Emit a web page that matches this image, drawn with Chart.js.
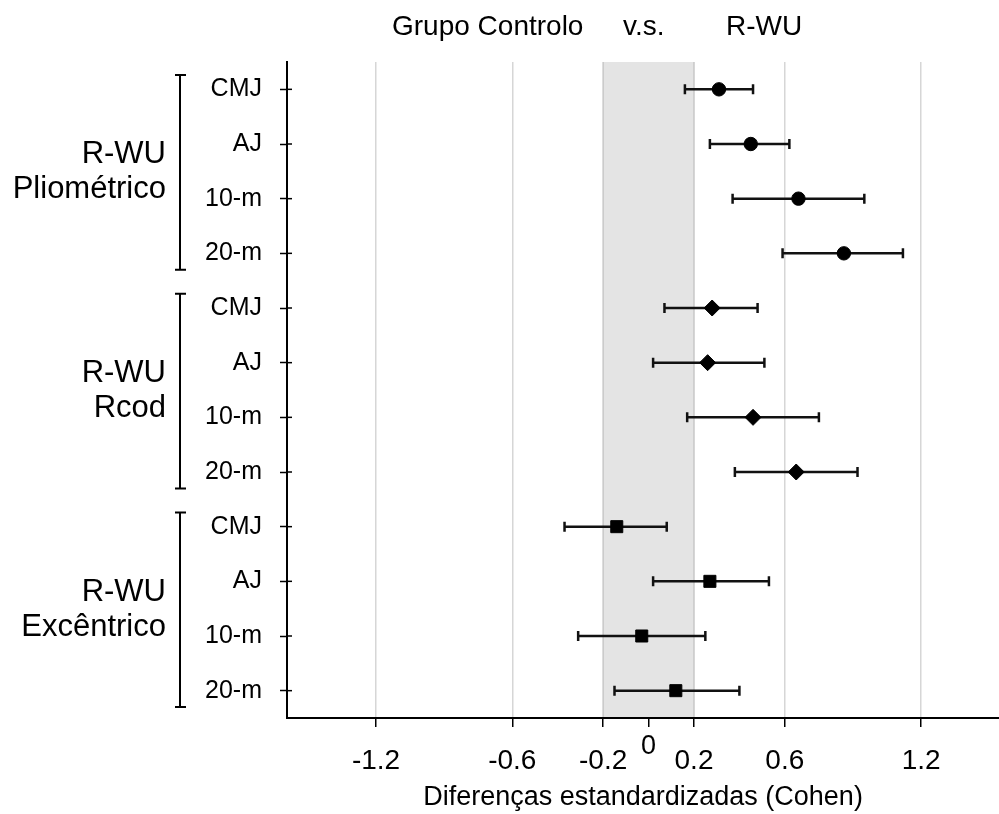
<!DOCTYPE html>
<html><head><meta charset="utf-8">
<script src="https://cdn.jsdelivr.net/npm/chart.js@4"></script>
<style>html,body{margin:0;padding:0;background:#fff;overflow:hidden}</style>
</head><body>
<canvas id="c" width="999" height="814" style="width:999px;height:814px"></canvas>
<script>
// ---- data ----
const categories = ['CMJ','AJ','10-m','20-m','CMJ','AJ','10-m','20-m','CMJ','AJ','10-m','20-m'];
const groupLabels = [['R-WU','Pliométrico'],['R-WU','Rcod'],['R-WU','Excêntrico']];
const titleParts = ['Grupo Controlo','v.s.','R-WU'];
const xTitle = 'Diferenças estandardizadas (Cohen)';
const xTickValues = [-1.2,-0.6,-0.2,0,0.2,0.6,1.2];
const bandRange = [-0.2,0.2];

const pliomRows = [0,1,2,3];
const pliomMean = [0.31,0.45,0.66,0.86];
const pliomLow  = [0.16,0.27,0.37,0.59];
const pliomHigh = [0.46,0.62,0.95,1.12];

const rcodRows = [4,5,6,7];
const rcodMean = [0.28,0.26,0.46,0.65];
const rcodLow  = [0.07,0.02,0.17,0.38];
const rcodHigh = [0.48,0.51,0.75,0.92];

const excRows = [8,9,10,11];
const excMean = [-0.14,0.27,-0.03,0.12];
const excLow  = [-0.37,0.02,-0.31,-0.15];
const excHigh = [0.08,0.53,0.25,0.40];

const FONT = "'Liberation Sans', Arial, sans-serif";

function pts(rows, mean, low, high){
  return rows.map((r,i)=>({x:mean[i], y:r, lo:low[i], hi:high[i]}));
}

const decor = {
  id:'decor',
  beforeDraw(chart){
    const {ctx, chartArea:a, scales:{x}} = chart;
    ctx.save();
    ctx.fillStyle='#fff'; ctx.fillRect(0,0,chart.width,chart.height);
    const x0=x.getPixelForValue(bandRange[0]), x1=x.getPixelForValue(bandRange[1]);
    ctx.fillStyle='#e4e4e4';
    ctx.fillRect(x0,a.top,x1-x0,a.bottom-a.top);
    ctx.strokeStyle='#c8c8c8'; ctx.lineWidth=1.5;
    ctx.beginPath();
    ctx.moveTo(x0,a.top); ctx.lineTo(x0,a.bottom);
    ctx.moveTo(x1,a.top); ctx.lineTo(x1,a.bottom);
    ctx.stroke();
    ctx.restore();
  },
  beforeDatasetsDraw(chart){
    const {ctx, scales:{x,y}} = chart;
    ctx.save();
    ctx.strokeStyle='#111'; ctx.lineWidth=2.5;
    chart.data.datasets.forEach(ds=>{
      ds.data.forEach(p=>{
        const py=y.getPixelForValue(p.y);
        const xl=x.getPixelForValue(p.lo), xh=x.getPixelForValue(p.hi);
        ctx.beginPath();
        ctx.moveTo(xl,py); ctx.lineTo(xh,py);
        ctx.moveTo(xl,py-5); ctx.lineTo(xl,py+5);
        ctx.moveTo(xh,py-5); ctx.lineTo(xh,py+5);
        ctx.stroke();
      });
    });
    ctx.restore();
  },
  afterDraw(chart){
    const {ctx, chartArea:a, scales:{x,y}} = chart;
    ctx.save();
    // inner half of y ticks
    ctx.strokeStyle='#000'; ctx.lineWidth=1.5;
    categories.forEach((c,i)=>{
      const py=y.getPixelForValue(i);
      ctx.beginPath(); ctx.moveTo(a.left,py); ctx.lineTo(a.left+5,py); ctx.stroke();
    });
    // brackets + group labels
    ctx.lineWidth=2;
    groupLabels.forEach((g,k)=>{
      const r0=k*4, r3=k*4+3;
      const t=y.getPixelForValue(r0-0.26), b=y.getPixelForValue(r3+0.3);
      const bx=180;
      ctx.beginPath();
      ctx.moveTo(bx,t); ctx.lineTo(bx,b);
      ctx.moveTo(bx-5,t); ctx.lineTo(bx+6,t);
      ctx.moveTo(bx-5,b); ctx.lineTo(bx+6,b);
      ctx.stroke();
      const mid=(y.getPixelForValue(r0+1)+y.getPixelForValue(r0+2))/2;
      ctx.fillStyle='#000'; ctx.font='31px '+FONT;
      ctx.textAlign='right'; ctx.textBaseline='alphabetic';
      ctx.fillText(g[0],166,mid-8);
      ctx.fillText(g[1],166,mid+27);
    });
    // title
    ctx.font='28px '+FONT; ctx.textAlign='left'; ctx.fillStyle='#000';
    ctx.fillText(titleParts[0],392,35);
    ctx.fillText(titleParts[1],623,35);
    ctx.fillText(titleParts[2],726,35);
    // raised zero label
    ctx.font='27px '+FONT; ctx.textAlign='center'; ctx.textBaseline='middle';
    ctx.fillText('0',x.getPixelForValue(0),747);
    ctx.restore();
  }
};

new Chart(document.getElementById('c'),{
  type:'scatter',
  data:{datasets:[
    {data:pts(pliomRows,pliomMean,pliomLow,pliomHigh),pointStyle:'circle',pointRadius:6.7,backgroundColor:'#000',borderColor:'#000'},
    {data:pts(rcodRows,rcodMean,rcodLow,rcodHigh),pointStyle:'rectRot',pointRadius:8,backgroundColor:'#000',borderColor:'#000'},
    {data:pts(excRows,excMean,excLow,excHigh),pointStyle:'rect',pointRadius:8.5,backgroundColor:'#000',borderColor:'#000'}
  ]},
  options:{
    responsive:false, animation:false, devicePixelRatio:1,
    layout:{autoPadding:false,padding:{top:62,left:0,right:0,bottom:0}},
    plugins:{legend:{display:false},tooltip:{enabled:false},title:{display:false}},
    scales:{
      x:{
        type:'linear', min:-1.592, max:1.543,
        afterBuildTicks(s){ s.ticks = xTickValues.map(v=>({value:v})); },
        afterFit(s){ s.height = 96; s.paddingLeft = 0; s.paddingRight = 0; },
        ticks:{autoSkip:false,maxRotation:0,padding:17,color:'#000',font:{family:FONT,size:28},
          callback:v=> v===0 ? '' : v.toFixed(1)},
        grid:{
          color:c=> (c.tick && [-1.2,-0.6,0.6,1.2].includes(c.tick.value)) ? '#d6d6d6' : 'rgba(0,0,0,0)',
          lineWidth:1.5, tickColor:'#000', tickLength:9, tickWidth:1.5, drawTicks:true
        },
        border:{display:true,color:'#000',width:2},
        title:{display:true,text:xTitle,color:'#000',font:{family:FONT,size:27},padding:{top:6,bottom:0}}
      },
      y:{
        type:'linear', min:-0.5, max:11.5, reverse:true,
        afterBuildTicks(s){ s.ticks = categories.map((c,i)=>({value:i})); },
        afterFit(s){ s.width = 287; },
        ticks:{autoSkip:false,padding:18,color:'#000',font:{family:FONT,size:25},
          callback:v=>categories[v]},
        grid:{drawOnChartArea:false,tickColor:'#000',tickLength:7,tickWidth:1.5},
        border:{display:true,color:'#000',width:2}
      }
    }
  },
  plugins:[decor]
});
</script>
</body></html>
